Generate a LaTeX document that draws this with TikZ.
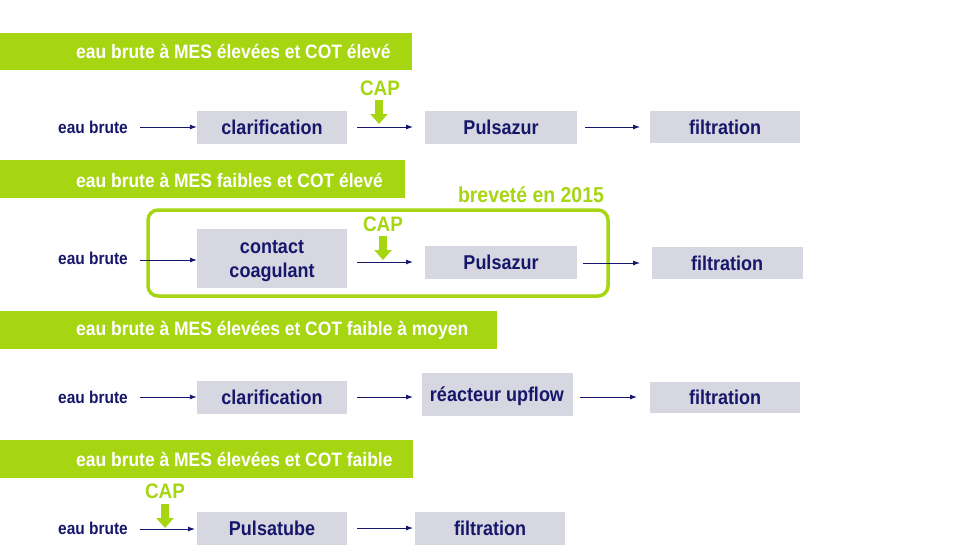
\documentclass[tikz,border=0pt]{standalone}
\usepackage{fontspec}
\setmainfont[FakeStretch=0.9]{Liberation Sans}
\usetikzlibrary{arrows.meta}
\definecolor{lime}{HTML}{A6D511}
\definecolor{boxgray}{HTML}{D6D7E0}
\definecolor{navy}{HTML}{16166A}
\tikzset{
  hdr/.style={fill=lime, draw=none, anchor=north west, inner sep=0pt},
  hdrtext/.style={text=white, font=\bfseries\fontsize{19.4}{22}\selectfont, anchor=west, inner sep=0pt},
  proc/.style={fill=boxgray, draw=none, text=navy, font=\bfseries\fontsize{20}{24}\selectfont, align=center, inner sep=0pt},
  proctext/.style={text=navy, font=\bfseries\fontsize{20}{24}\selectfont, align=center, inner sep=0pt},
  src/.style={text=navy, font=\bfseries\fontsize{17.2}{20}\selectfont, inner sep=0pt},
  flow/.style={draw=navy, line width=0.9pt, -{Latex[length=7pt,width=5pt]}},
  caplabel/.style={text=lime, font=\bfseries\fontsize{21}{24}\selectfont, inner sep=0pt},
  brevlabel/.style={text=lime, font=\bfseries\fontsize{21.6}{24}\selectfont, inner sep=0pt},
  caparrow/.style={draw=lime, line width=8pt, -{Triangle[length=10pt,width=17pt]}},
}
\begin{document}
\begin{tikzpicture}[x=1pt,y=-1pt]
\useasboundingbox (0,0) rectangle (955,552);
% headers
\node[hdr, minimum width=412, minimum height=37] (h1) at (0,33) {};
\node[hdrtext] (h1t) at (76,51) {eau brute à MES élevées et COT élevé};
\node[hdr, minimum width=405, minimum height=38] (h2) at (0,160) {};
\node[hdrtext] (h2t) at (76,180) {eau brute à MES faibles et COT élevé};
\node[hdr, minimum width=497, minimum height=38] (h3) at (0,311) {};
\node[hdrtext] (h3t) at (76,330) {eau brute à MES élevées et COT faible à moyen};
\node[hdr, minimum width=413, minimum height=38] (h4) at (0,440) {};
\node[hdrtext] (h4t) at (76,459) {eau brute à MES élevées et COT faible};

% row 1
\node[src] (s1) at (93,127) {eau brute};
\node[proc, minimum width=150, minimum height=33] (c1) at (272,127) {clarification};
\node[proc, minimum width=152, minimum height=33] (p1) at (501,127) {Pulsazur};
\node[proc, minimum width=150, minimum height=32] (f1) at (725,127) {filtration};
\coordinate (s1e) at (140,127);
\draw[flow] (s1e) -- (c1.west);
\coordinate (c1o) at (357,127);
\coordinate (p1i) at (413,127);
\draw[flow] (c1o) -- (p1i);
\coordinate (p1o) at (585,127);
\coordinate (f1i) at (640,127);
\draw[flow] (p1o) -- (f1i);
\node[caplabel] (cap1) at (380,88) {CAP};
\coordinate (cap1a) at (379,100);
\coordinate (cap1b) at (379,124);
\draw[caparrow] (cap1a) -- (cap1b);

% row 2
\node[draw=lime, line width=3.5pt, rounded corners=10pt, minimum width=460, minimum height=86, inner sep=0pt] (pat) at (378,253) {};
\node[brevlabel] (brev) at (531,195) {breveté en 2015};
\node[src] (s2) at (93,258) {eau brute};
\node[proc, minimum width=150, minimum height=59] (cc) at (272,258.5) {};
\node[proctext] (cct) at (272,261) {contact\\coagulant};
\node[proc, minimum width=152, minimum height=33] (p2) at (501,262) {Pulsazur};
\node[proc, minimum width=151, minimum height=32] (f2) at (727,263) {filtration};
\coordinate (s2e) at (140,260);
\coordinate (cci) at (197,260);
\draw[flow] (s2e) -- (cci);
\coordinate (cco) at (357,262);
\coordinate (p2i) at (413,262);
\draw[flow] (cco) -- (p2i);
\coordinate (p2o) at (583,263);
\coordinate (f2i) at (640,263);
\draw[flow] (p2o) -- (f2i);
\node[caplabel] (cap2) at (383,224) {CAP};
\coordinate (cap2a) at (383,236);
\coordinate (cap2b) at (383,260);
\draw[caparrow] (cap2a) -- (cap2b);

% row 3
\node[src] (s3) at (93,397) {eau brute};
\node[proc, minimum width=150, minimum height=33] (c3) at (272,397) {clarification};
\node[proc, minimum width=151, minimum height=43] (r3) at (497,394.5) {};
\node[proctext] (r3t) at (497,396.5) {réacteur upflow};
\node[proc, minimum width=150, minimum height=31] (f3) at (725,397.5) {filtration};
\coordinate (s3e) at (140,397);
\draw[flow] (s3e) -- (c3.west);
\coordinate (c3o) at (357,397);
\coordinate (r3i) at (413,397);
\draw[flow] (c3o) -- (r3i);
\coordinate (r3o) at (580,397);
\coordinate (f3i) at (637,397);
\draw[flow] (r3o) -- (f3i);

% row 4
\node[src] (s4) at (93,528) {eau brute};
\node[proc, minimum width=150, minimum height=33] (pt4) at (272,528.5) {Pulsatube};
\node[proc, minimum width=150, minimum height=33] (f4) at (490,528.5) {filtration};
\coordinate (s4e) at (140,529);
\coordinate (pt4i) at (195,529);
\draw[flow] (s4e) -- (pt4i);
\coordinate (pt4o) at (357,528);
\coordinate (f4i) at (413,528);
\draw[flow] (pt4o) -- (f4i);
\node[caplabel] (cap4) at (165,491) {CAP};
\coordinate (cap4a) at (165,504);
\coordinate (cap4b) at (165,528);
\draw[caparrow] (cap4a) -- (cap4b);
\end{tikzpicture}
\end{document}
